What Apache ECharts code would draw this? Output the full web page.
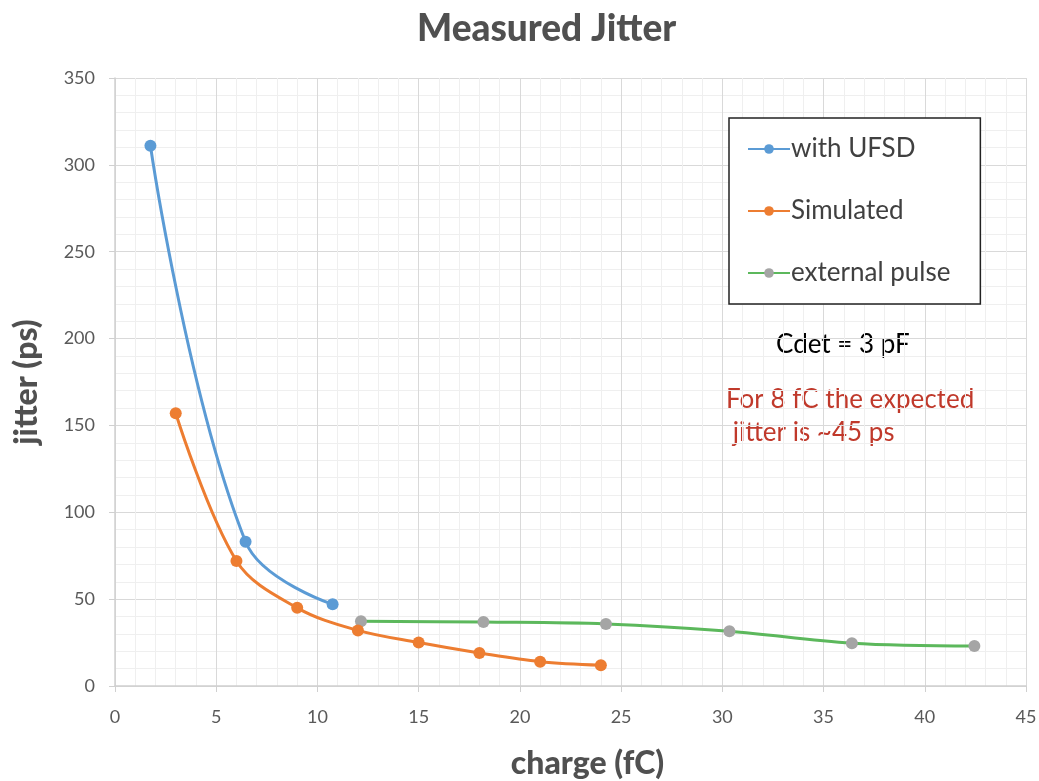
<!DOCTYPE html>
<html><head><meta charset="utf-8">
<script src="https://cdn.jsdelivr.net/npm/echarts@6/dist/echarts.min.js"></script>
<style>html,body{margin:0;padding:0;background:#fff}#c{width:1039px;height:781px}</style>
</head><body><div id="c"></div>
<script>
const ufsdX = [1.75, 6.45, 10.75];
const ufsdY = [311, 83, 47];
const simX = [3, 6, 9, 12, 15, 18, 21, 24];
const simY = [157, 72, 45, 32, 25, 19, 14, 12];
const extX = [12.15, 18.2, 24.25, 30.35, 36.4, 42.45];
const extY = [37.3, 36.8, 35.7, 31.5, 24.6, 23];
const seriesNames = ['with UFSD', 'Simulated', 'external pulse'];
const FONT = 'Lato, "Open Sans", sans-serif';
const pair = (xs, ys) => xs.map((x, i) => [x, ys[i]]);

const chart = echarts.init(document.getElementById('c'), null, {renderer: 'canvas'});
chart.setOption({
  animation: false,
  backgroundColor: '#fff',
  title: {text: 'Measured Jitter', left: 412, top: 6,
    textStyle: {fontFamily: FONT, fontSize: 37, fontWeight: 900, color: '#505050'}},
  grid: {left: 115, right: 13, top: 78, bottom: 95, outerBoundsMode: 'none', containLabel: false},
  legend: {
    orient: 'vertical', left: 729, top: 118,
    padding: [18, 30, 18, 18], itemGap: 36, itemWidth: 42, itemHeight: 12,
    backgroundColor: '#fff', borderColor: '#222', borderWidth: 1.5,
    textStyle: {fontFamily: FONT, fontSize: 26, color: '#404040', padding: [0, 0, 0, -4]},
    data: seriesNames
  },
  xAxis: {
    type: 'value', min: 0, max: 45, interval: 5,
    name: 'charge (fC)', nameLocation: 'middle', nameGap: 62,
    nameTextStyle: {fontFamily: FONT, fontSize: 32, fontWeight: 900, color: '#505050', padding: [0, 0, 0, 34]},
    axisLine: {show: true, lineStyle: {color: '#d0d0d0', width: 1.5}},
    axisTick: {show: true, length: 6, lineStyle: {color: '#d0d0d0'}},
    axisLabel: {fontFamily: FONT, fontSize: 18, color: '#595959', margin: 22},
    splitLine: {lineStyle: {color: '#d9d9d9', width: 1}},
    minorTick: {show: false, splitNumber: 5},
    minorSplitLine: {show: true, lineStyle: {color: '#efefef', width: 1}}
  },
  yAxis: {
    type: 'value', min: 0, max: 350, interval: 50,
    name: 'jitter (ps)', nameLocation: 'middle', nameGap: 72, nameRotate: 90,
    nameTextStyle: {fontFamily: FONT, fontSize: 32, fontWeight: 900, color: '#505050'},
    axisLine: {show: true, lineStyle: {color: '#d0d0d0', width: 1.5}},
    axisTick: {show: true, length: 6, lineStyle: {color: '#d0d0d0'}},
    axisLabel: {fontFamily: FONT, fontSize: 18, color: '#595959', margin: 20},
    splitLine: {lineStyle: {color: '#d9d9d9', width: 1}},
    minorTick: {show: false, splitNumber: 5},
    minorSplitLine: {show: true, lineStyle: {color: '#efefef', width: 1}}
  },
  series: [
    {name: seriesNames[0], type: 'line', data: pair(ufsdX, ufsdY), smooth: 0.4,
      symbol: 'circle', symbolSize: 12,
      itemStyle: {color: '#5b9bd5'}, lineStyle: {color: '#5b9bd5', width: 3}},
    {name: seriesNames[1], type: 'line', data: pair(simX, simY), smooth: 0.35,
      symbol: 'circle', symbolSize: 12,
      itemStyle: {color: '#ed7d31'}, lineStyle: {color: '#ed7d31', width: 3}},
    {name: seriesNames[2], type: 'line', data: pair(extX, extY), smooth: 0.35,
      symbol: 'circle', symbolSize: 12, z: 1,
      itemStyle: {color: '#a5a5a5'}, lineStyle: {color: '#5cb85c', width: 3}}
  ],
  graphic: [
    {type: 'text', left: 776, top: 332, style: {text: 'Cdet = 3 pF', fontFamily: FONT, fontSize: 26, fill: '#000'}},
    {type: 'text', left: 726, top: 383, style: {text: 'For 8 fC the expected\n jitter is ~45 ps', fontFamily: FONT, fontSize: 26, lineHeight: 33, fill: '#c0392b'}}
  ]
});
</script></body></html>
